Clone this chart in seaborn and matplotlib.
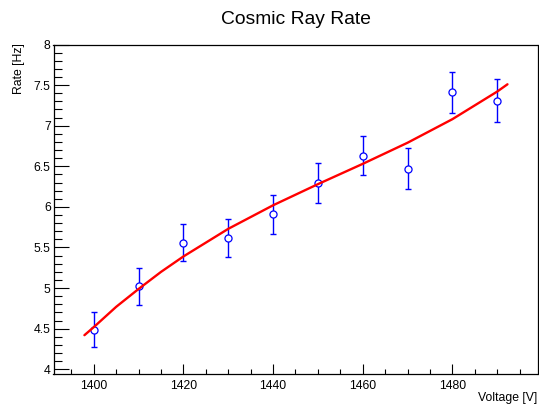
import matplotlib
matplotlib.use("Agg")
import matplotlib.pyplot as plt
from matplotlib.ticker import MultipleLocator, FormatStrFormatter
import seaborn as sns
import pandas as pd

# Measured counting rate versus PMT high voltage
voltage = [1400, 1410, 1420, 1430, 1440, 1450, 1460, 1470, 1480, 1490]
rate = [4.49, 5.02, 5.56, 5.62, 5.91, 6.29, 6.63, 6.47, 7.41, 7.31]
rate_err = [0.215, 0.225, 0.23, 0.235, 0.24, 0.245, 0.24, 0.255, 0.25, 0.26]

# Fitted curve, sampled along the voltage range
fit_voltage = [1397.9, 1400, 1405, 1410, 1415, 1420, 1430, 1440, 1450,
               1460, 1470, 1480, 1490, 1492.3]
fit_rate = [4.42, 4.52, 4.77, 4.99, 5.20, 5.39, 5.73, 6.02, 6.28,
            6.53, 6.79, 7.08, 7.42, 7.51]

points = pd.DataFrame({"Voltage": voltage, "Rate": rate, "Err": rate_err})
fit = pd.DataFrame({"Voltage": fit_voltage, "Rate": fit_rate})

sns.set_theme(style="white")
plt.rcParams["font.family"] = ["Liberation Sans", "DejaVu Sans"]

W, H = 539, 407
fig = plt.figure(figsize=(W / 100, H / 100), dpi=100)
left, right, top, bottom = 53.5, 537.5, 44.5, 374.0
ax = fig.add_axes([left / W, 1 - bottom / H, (right - left) / W, (bottom - top) / H])

blue = (0, 0, 1)
red = (1, 0, 0)

ax.errorbar(points["Voltage"], points["Rate"], yerr=points["Err"], fmt="none",
            ecolor=blue, elinewidth=1.0, capsize=2.2, capthick=1.0, zorder=2)
sns.scatterplot(data=points, x="Voltage", y="Rate", ax=ax, marker="o", s=26,
                facecolor="white", edgecolor=blue, linewidth=0.9, zorder=3,
                legend=False)
sns.lineplot(data=fit, x="Voltage", y="Rate", ax=ax, color=red, linewidth=1.7,
             sort=False, estimator=None, zorder=4, legend=False)

ax.set_xlim(1391, 1499)
ax.set_ylim(3.942, 8.0)

ax.xaxis.set_major_locator(MultipleLocator(20))
ax.xaxis.set_minor_locator(MultipleLocator(5))
ax.yaxis.set_major_locator(MultipleLocator(0.5))
ax.yaxis.set_minor_locator(MultipleLocator(0.1))
ax.yaxis.set_major_formatter(FormatStrFormatter("%g"))

ax.tick_params(axis="both", which="both", direction="in", colors="black",
               width=0.8, labelsize=8.8, bottom=True, left=True,
               top=False, right=False)
ax.tick_params(axis="x", which="major", length=7.2, pad=4)
ax.tick_params(axis="x", which="minor", length=3.6)
ax.tick_params(axis="y", which="major", length=10.8, pad=2)
ax.tick_params(axis="y", which="minor", length=5.4)

for side in ax.spines.values():
    side.set_color("black")
    side.set_linewidth(0.9)

ax.set_xlabel("")
ax.set_ylabel("")
fig.text(right / W, 1 - 398.5 / H, "Voltage [V]", ha="right", va="center",
         fontsize=8.8, color="black")
fig.text(19 / W, 1 - 43 / H, "Rate [Hz]", rotation=90, ha="center", va="top",
         fontsize=8.8, color="black")
fig.text((left + right) / 2 / W, 1 - 23.5 / H, "Cosmic Ray Rate", ha="center",
         va="baseline", fontsize=13.9, color="black")

fig.savefig("out.png", dpi=100, facecolor="white")
